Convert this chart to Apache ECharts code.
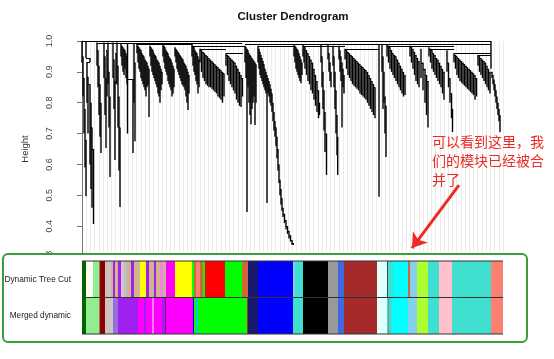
<!DOCTYPE html>
<html><head><meta charset="utf-8">
<script src="https://cdn.jsdelivr.net/npm/echarts/dist/echarts.min.js"></script>
<style>html,body{margin:0;padding:0;background:#fff}#c{width:554px;height:359px}</style>
</head><body><div id="c"></div><script>
// ---------- dendrogram data (x = leaf position, y = merge height) ----------
// top-level merges [xLeft, xRight, height]
const merges = [[0,409,1.0],[15,160,0.995],[55,110,0.99],[110,163,0.985],[118,144,0.975],[144,161,0.96],
  [163,212,0.99],[176,212,0.985],[212,297,0.99],[221,263,0.985],[263,297,0.975],[297,409,0.99],
  [305,372,0.985],[347,372,0.975],[372,409,0.96],[396,409,0.955],[4,8,0.945],[5,8,0.932]];
// connecting verticals [x, top, bottom]
const links = [[4,1.0,0.945],[8,0.945,0.932]];
// combs: leaves [x, joinHeight, tipHeight]
const combA1 = [[0,1.0,0.93],[1,0.95,0.82],[2,0.88,0.70],[3,0.78,0.59],[4,0.68,0.497]];
const combA2 = [[5,0.932,0.80],[6,0.884,0.70],[8,0.86,0.60],[9,0.80,0.52],[10,0.72,0.46],[11.5,0.65,0.407]];
const combB1 = [[15,0.995,0.92],[16,0.97,0.85],[17,0.92,0.76],[18,0.86,0.69],[19,0.80,0.637]];
const combB2 = [[22,0.995,0.88],[23,0.95,0.76],[24,0.88,0.653],[25,0.97,0.82]];
const combB3 = [[26,0.995,0.86],[27,0.90,0.72],[28,0.82,0.559]];
const combB4 = [[31,0.995,0.88],[32,0.94,0.78],[33,0.87,0.614],[34,0.96,0.86]];
const combB5 = [[35,0.995,0.86],[36,0.92,0.72],[37,0.82,0.58],[38,0.72,0.462]];
const combB6 = [[39,0.99,0.95],[40,0.985,0.92],[41,0.98,0.90],[42,0.975,0.89],[43,0.97,0.91],[44,0.96,0.88],[45,0.95,0.86]];
const combB7 = [[45.5,0.99,0.70],[51,0.877,0.637]];
const combB8 = [[52,0.99,0.80],[53,0.93,0.675]];
const combC1 = [[55,0.99,0.96],[56,0.985,0.93],[57,0.98,0.91],[58,0.975,0.90],[59,0.97,0.88],[60,0.96,0.87],[61,0.955,0.86],[62,0.95,0.85],[63,0.94,0.84],[64,0.935,0.82],[65,0.93,0.85],[66,0.92,0.857],[67,0.91,0.754]];
const combC2 = [[68,0.985,0.95],[69,0.98,0.92],[70,0.975,0.90],[71,0.97,0.89],[72,0.96,0.88],[73,0.955,0.87],[74,0.95,0.86],[75,0.94,0.85],[76,0.935,0.83],[77,0.93,0.82],[78,0.92,0.80],[79,0.91,0.84],[80,0.90,0.86]];
const combC3 = [[81,0.99,0.95],[82,0.985,0.93],[83,0.98,0.91],[84,0.97,0.90],[85,0.965,0.89],[86,0.96,0.87],[87,0.95,0.86],[88,0.945,0.85],[89,0.94,0.84],[90,0.93,0.82],[91,0.92,0.83],[92,0.91,0.85]];
const combC4 = [[93,0.98,0.95],[94,0.975,0.93],[95,0.97,0.91],[96,0.965,0.90],[97,0.96,0.89],[98,0.955,0.88],[99,0.95,0.87],[100,0.945,0.86],[101,0.94,0.855],[102,0.93,0.85],[103,0.925,0.84],[104,0.92,0.82],[105,0.91,0.80],[106,0.90,0.776],[107,0.89,0.83]];
const combC5 = [[110,0.99,0.95],[111,0.985,0.92],[112,0.98,0.90],[113,0.97,0.89],[114,0.965,0.87],[115,0.96,0.86],[116,0.95,0.83],[117,0.94,0.85]];
const combC6 = [[118,0.975,0.93],[119.5,0.97,0.90],[121,0.965,0.88],[122.5,0.96,0.87],[124,0.955,0.86],[125.5,0.95,0.855],[127,0.945,0.85],[128.5,0.94,0.85],[130,0.935,0.845],[131.5,0.93,0.84],[133,0.925,0.835],[134.5,0.92,0.83],[136,0.915,0.82],[137.5,0.91,0.815],[139,0.905,0.81],[140.5,0.90,0.80],[142,0.895,0.82]];
const combC7 = [[144,0.96,0.92],[145.5,0.955,0.89],[147,0.95,0.87],[148.5,0.945,0.86],[150,0.94,0.85],[151.5,0.935,0.84],[153,0.93,0.83],[154.5,0.92,0.81],[156,0.91,0.80],[157.5,0.90,0.79],[159,0.89,0.786],[160.5,0.88,0.82]];
const combD1 = [[163,0.985,0.93],[164,0.98,0.88],[165,0.975,0.446],[166,0.97,0.85],[167,0.96,0.80],[168,0.955,0.76],[169,0.95,0.73],[170,0.945,0.78],[171,0.94,0.80],[172,0.935,0.82],[173,0.93,0.728],[174,0.925,0.80]];
const combD2 = [[176,0.985,0.93],[177,0.975,0.91],[178,0.965,0.89],[179,0.955,0.88],[180,0.945,0.87],[181,0.935,0.86],[182,0.925,0.85],[183,0.91,0.84],[184,0.90,0.83],[185,0.89,0.475],[186,0.88,0.83],[187,0.87,0.82],[188,0.86,0.80],[189,0.845,0.79],[190,0.83,0.77],[191,0.80,0.74],[192,0.77,0.71],[193,0.74,0.69],[194,0.72,0.66],[195,0.69,0.62],[196,0.65,0.58],[197,0.60,0.54],[198,0.55,0.50],[199,0.52,0.47],[200,0.49,0.45],[201,0.46,0.43],[202.5,0.44,0.41],[204,0.42,0.39],[205.5,0.40,0.375],[207,0.385,0.36],[208.5,0.37,0.35],[210,0.355,0.34],[211.3,0.345,0.339]];
const combE1 = [[212,0.99,0.95],[213,0.985,0.93],[214,0.98,0.91],[215,0.975,0.90],[216,0.97,0.89],[217,0.96,0.88],[218,0.95,0.87],[219,0.94,0.863],[220,0.93,0.89]];
const combE2 = [[221,0.99,0.95],[222,0.985,0.93],[223,0.98,0.91],[224.5,0.97,0.89],[226,0.96,0.87],[227.5,0.95,0.86],[229,0.94,0.84],[230.5,0.93,0.83],[232,0.91,0.81],[233.5,0.89,0.79],[235,0.87,0.77],[236.5,0.84,0.75],[237.5,0.80,0.76]];
const combF1 = [[239,0.99,0.93],[240,0.95,0.85],[241,0.90,0.78],[242,0.84,0.71],[243,0.77,0.64],[244.5,0.70,0.566]];
const combF2 = [[246,0.99,0.94],[247,0.96,0.90],[248,0.93,0.87],[249,0.90,0.85]];
const combF3 = [[251,0.985,0.92],[252,0.95,0.85],[253,0.90,0.78],[254,0.84,0.70],[255,0.76,0.63],[255.7,0.69,0.566]];
const combF4 = [[257,0.985,0.94],[258,0.97,0.90],[259,0.95,0.87],[260,0.93,0.72],[261,0.91,0.85],[262,0.89,0.83]];
const combG1 = [[263,0.975,0.94],[264.5,0.97,0.91],[266,0.965,0.89],[267.5,0.96,0.88],[269,0.955,0.87],[270.5,0.95,0.86],[272,0.945,0.855],[273.5,0.94,0.85],[275,0.935,0.845],[276.5,0.93,0.84],[278,0.925,0.83],[279.5,0.92,0.825],[281,0.915,0.82],[282.5,0.91,0.815],[284,0.905,0.81],[285.5,0.90,0.80],[287,0.89,0.79],[288.5,0.88,0.78],[290,0.87,0.77],[291.5,0.86,0.76],[293,0.85,0.75]];
const combH1 = [[297,0.99,0.495]];
const combH2 = [[300,0.99,0.90],[301,0.95,0.78],[302,0.90,0.80],[303,0.82,0.70],[304,0.79,0.624]];
const combH3 = [[305,0.99,0.95],[306.5,0.985,0.93],[308,0.98,0.91],[309.5,0.97,0.90],[311,0.96,0.89],[312.5,0.955,0.88],[314,0.95,0.87],[315.5,0.94,0.86],[317,0.93,0.85],[318.5,0.92,0.84],[320,0.91,0.83],[321.5,0.90,0.82],[323,0.89,0.825]];
const combI1 = [[328,0.985,0.95],[329.5,0.98,0.93],[331,0.975,0.91],[332.5,0.965,0.89],[334,0.955,0.87],[335.5,0.945,0.86],[337,0.935,0.85]];
const combI2 = [[339,0.975,0.88],[341,0.93,0.84],[343,0.91,0.80],[344.5,0.89,0.76],[346,0.87,0.72]];
const combI3 = [[347,0.98,0.95],[348.5,0.975,0.93],[350,0.97,0.91],[351.5,0.96,0.90],[353,0.955,0.89],[354.5,0.945,0.88],[356,0.94,0.87],[357.5,0.93,0.86],[359,0.92,0.85],[360.5,0.91,0.83],[362,0.90,0.81]];
const combI4 = [[365,0.97,0.90],[366.5,0.93,0.85],[368,0.88,0.80],[369.5,0.83,0.75],[370.5,0.78,0.705]];
const combJ1 = [[372,0.96,0.93],[373.5,0.955,0.91],[375,0.95,0.89],[376.5,0.945,0.88],[378,0.94,0.87],[379.5,0.935,0.865],[381,0.93,0.86],[382.5,0.925,0.855],[384,0.92,0.85],[385.5,0.915,0.845],[387,0.91,0.84],[388.5,0.905,0.835],[390,0.90,0.83],[391.5,0.895,0.825],[393,0.89,0.81],[394.5,0.88,0.82]];
const combJ2 = [[396,0.955,0.92],[397.5,0.95,0.90],[399,0.945,0.89],[400.5,0.94,0.88],[402,0.935,0.87],[403.5,0.93,0.86],[405,0.92,0.85],[406.5,0.91,0.84],[408,0.90,0.83]];
const combJ3 = [[409,1.0,0.91],[410,0.90,0.88],[411,0.89,0.86],[412,0.875,0.84],[413,0.86,0.82],[414,0.84,0.80],[415,0.82,0.78],[416,0.80,0.76],[417,0.78,0.74],[418,0.76,0.705]];
const combs = [combA1,combA2,combB1,combB2,combB3,combB4,combB5,combB6,combB7,combB8,combC1,combC2,combC3,combC4,combC5,combC6,combC7,
  combD1,combD2,combE1,combE2,combF1,combF2,combF3,combF4,combG1,combH1,combH2,combH3,combI1,combI2,combI3,combI4,combJ1,combJ2,combJ3];

// ---------- module colour rows [start, end, module] ----------
const rowLabels = ['Dynamic Tree Cut', 'Merged dynamic'];
const rowDynamic = [[0,4,'darkgreen'],[4,11,'ivory'],[11,17.5,'lightgreen'],[17.5,23,'darkred'],[23,29,'lavenderblush3'],[29,31,'tan'],
  [31,33,'purple'],[33,36,'tan'],[36,39,'purple'],[39,42,'thistle'],[42,45,'grey'],[45,49,'tan'],[49,52,'purple'],[52,58,'tan'],
  [58,64,'yellow'],[64,67,'purple'],[67,69,'tan'],[69,72,'tan'],[72,74,'purple'],[74,78,'tan'],[78,81,'violet'],[81,84,'tan'],
  [84,93,'magenta'],[93,110,'yellow'],[110,112,'green'],[112,114,'sienna3'],[114,118,'salmon'],[118,121,'sienna3'],[121,123,'green'],
  [123,143,'red'],[143,160,'green'],[160,166,'sienna3'],[166,176,'midnightblue'],[176,211,'blue'],[211,213,'skyblue'],[213,221,'turquoise'],
  [221,246,'black'],[246,256,'grey60'],[256,262,'royalblue'],[262,295,'brown'],[295,305,'lightcyan'],[305,306,'darkslategray'],
  [306,311,'turquoise'],[311,326,'cyan'],[326,328,'sienna3'],[328,335,'skyblue'],[335,346,'greenyellow'],[346,357,'turquoise'],
  [357,370,'pink'],[370,409,'turquoise'],[409,421,'salmon']];
const rowMerged = [[0,4,'darkgreen'],[4,17.5,'lightgreen'],[17.5,23,'darkred'],[23,31,'lavenderblush3'],[31,36,'mediumpurple'],
  [36,56,'purple'],[56,62,'magenta'],[62,64,'purple'],[64,70,'magenta'],[70,72,'violet'],[72,80,'magenta'],[80,83,'purple'],
  [83,84,'darkmagenta'],[84,111,'magenta'],[111,112,'blue'],[112,114,'green'],[114,116,'darkturquoise'],[116,165,'green'],
  [165,166,'brown'],[166,176,'midnightblue'],[176,211,'blue'],[211,221,'turquoise'],[221,246,'black'],[246,256,'grey60'],
  [256,262,'royalblue'],[262,295,'brown'],[295,305,'lightcyan'],[305,306.5,'turquoise'],[306.5,307.5,'darkslategray'],
  [307.5,310,'turquoise'],[310,326,'cyan'],[326,335,'skyblue'],[335,346,'greenyellow'],[346,357,'turquoise'],[357,370,'pink'],
  [370,409,'turquoise'],[409,421,'salmon']];

// annotation
const noteText = '可以看到这里，我\n们的模块已经被合\n并了';
const arrowFrom = [377, 0.533], arrowTo = [330, 0.329];

// ---------- styling ----------
const R_COLORS = {darkgreen:'#006400',ivory:'#FFFFF0',lightgreen:'#90EE90',darkred:'#8B0000',lavenderblush3:'#CDC1C5',tan:'#D2B48C',
  purple:'#A020F0',thistle:'#D8BFD8',grey:'#BEBEBE',yellow:'#FFFF00',violet:'#EE82EE',magenta:'#FF00FF',green:'#00FF00',
  sienna3:'#CD6839',salmon:'#FA8072',red:'#FF0000',midnightblue:'#191970',blue:'#0000FF',skyblue:'#87CEEB',turquoise:'#40E0D0',
  black:'#000000',grey60:'#999999',royalblue:'#4169E1',brown:'#A52A2A',lightcyan:'#E0FFFF',darkslategray:'#2F4F4F',cyan:'#00FFFF',
  greenyellow:'#ADFF2F',pink:'#FFC0CB',mediumpurple:'#9370DB',darkmagenta:'#8B008B',darkturquoise:'#00CED1'};
const FONT = '"Liberation Sans", Arial, sans-serif';

// build dendrogram segments table
const segs = [];
merges.forEach(m => segs.push([m[0], m[2], m[1], m[2]]));
links.forEach(l => segs.push([l[0], l[1], l[0], l[2]]));
combs.forEach(c => c.forEach((lf, i) => {
  if (i > 0) segs.push([c[i-1][0], lf[1], lf[0], lf[1]]);
  segs.push([lf[0], lf[1], lf[0], lf[2]]);
}));
const bars = [];
[rowDynamic, rowMerged].forEach((row, r) => row.forEach(s => bars.push([s[0], s[1], r, s[2]])));

const crisp = v => Math.round(v) + 0.5;
const chart = echarts.init(document.getElementById('c'), null, {renderer: 'canvas'});
chart.setOption({
  animation: false,
  title: {text: 'Cluster Dendrogram', left: 288, top: 6, textAlign: 'center',
    textStyle: {fontSize: 11.5, fontWeight: 'bold', color: '#111', fontFamily: FONT}},
  grid: [
    {left: 82, width: 421, top: 41, height: 216},
    {left: 82, width: 421, top: 261, height: 73}
  ],
  xAxis: [
    {type: 'value', gridIndex: 0, min: 0, max: 421, interval: 4.21,
      axisLine: {show: false}, axisTick: {show: false}, axisLabel: {show: false},
      splitLine: {show: true, lineStyle: {color: '#ececec', width: 1}}},
    {type: 'value', gridIndex: 1, min: 0, max: 421, show: false}
  ],
  yAxis: [
    {type: 'value', gridIndex: 0, min: 0.3, max: 1.0, interval: 0.1, offset: 16,
      name: 'Height', nameLocation: 'middle', nameGap: 36,
      nameTextStyle: {fontSize: 9.5, color: '#333', fontFamily: FONT},
      axisLine: {show: true, lineStyle: {color: '#777'}},
      axisTick: {show: true, length: 5, lineStyle: {color: '#777'}},
      axisLabel: {rotate: 90, margin: 12, fontSize: 9, color: '#444', fontFamily: FONT,
        formatter: v => v.toFixed(1)},
      splitLine: {show: false}},
    {type: 'category', gridIndex: 1, data: rowLabels, inverse: true, z: 6,
      axisLine: {show: false}, axisTick: {show: false},
      axisLabel: {margin: 11, fontSize: 8.3, color: '#222', fontFamily: FONT}}
  ],
  graphic: [
    {type: 'rect', z: 1, shape: {x: 3, y: 254, width: 524, height: 88, r: 5},
      style: {fill: '#fff', stroke: '#3a9e3a', lineWidth: 2}},
    {type: 'text', z: 10, left: 432, top: 132,
      style: {text: noteText, fill: '#ee2a24', font: '14px "Noto Sans CJK SC"', lineHeight: 19}}
  ],
  series: [
    {type: 'custom', xAxisIndex: 0, yAxisIndex: 0, data: segs, encode: {x: [0, 2], y: [1, 3]}, clip: false,
      renderItem: (params, api) => {
        const a = api.coord([api.value(0), api.value(1)]);
        const b = api.coord([api.value(2), api.value(3)]);
        const vert = api.value(0) === api.value(2);
        if (vert) {
          return {type: 'line', shape: {x1: a[0], y1: a[1], x2: b[0], y2: b[1]},
            style: {stroke: '#000', lineWidth: 1.4}};
        }
        return {type: 'line', shape: {x1: a[0], y1: crisp(a[1]), x2: b[0], y2: crisp(b[1])},
          style: {stroke: '#000', lineWidth: 1}};
      }},
    {type: 'custom', xAxisIndex: 1, yAxisIndex: 1, data: bars.map(b => [b[0], b[1], b[2]]),
      encode: {x: [0, 1], y: 2},
      renderItem: (params, api) => {
        const s = api.coord([api.value(0), api.value(2)]);
        const e = api.coord([api.value(1), api.value(2)]);
        const h = api.size([0, 1])[1];
        return {type: 'rect', shape: {x: s[0], y: s[1] - h / 2, width: e[0] - s[0], height: h},
          style: {fill: R_COLORS[bars[params.dataIndex][3]] || '#ccc'}};
      }},
    {type: 'custom', xAxisIndex: 1, yAxisIndex: 1, z: 3, data: [[0, 0, 0], [0, 0, 1], [0, 0, 2]],
      renderItem: (params, api) => {
        const c0 = api.coord([0, 0]);
        const c1 = api.coord([421, 0]);
        const h = api.size([0, 1])[1];
        const y = c0[1] - h / 2 + h * params.dataIndex;
        return {type: 'line', shape: {x1: c0[0], y1: y, x2: c1[0], y2: y},
          style: {stroke: '#333', lineWidth: 1}};
      }},
    {type: 'lines', coordinateSystem: 'cartesian2d', xAxisIndex: 0, yAxisIndex: 0, z: 10,
      symbol: ['none', 'arrow'], symbolSize: [11, 14],
      lineStyle: {color: '#ee2a24', width: 3, opacity: 1},
      data: [{coords: [arrowFrom, arrowTo]}]}
  ]
});
</script></body></html>
